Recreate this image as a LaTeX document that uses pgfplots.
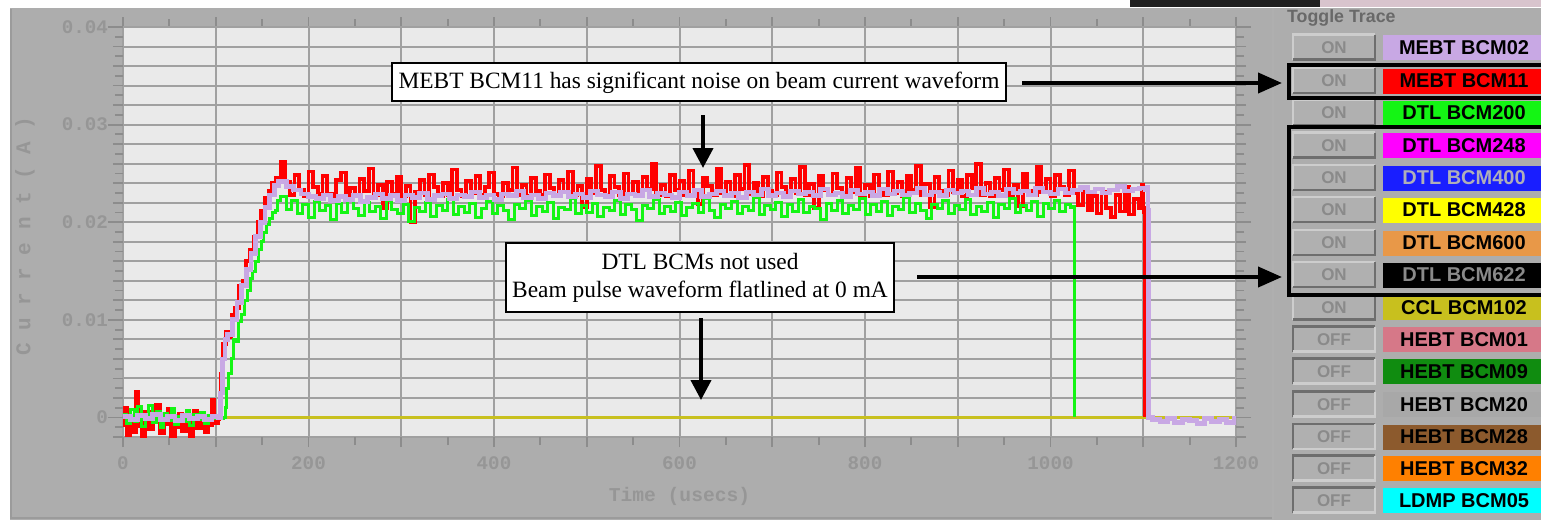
\documentclass[border=0pt]{standalone}
\usepackage{fontspec}
\setmainfont{Liberation Serif}
\newfontfamily\monof{Liberation Mono}
\newfontfamily\guif{Liberation Sans}
\usepackage{pgfplots}
\pgfplotsset{compat=1.18}
\usepackage{pgfplotstable}
\usetikzlibrary{arrows.meta}

\definecolor{panelbg}{RGB}{173,173,173}
\definecolor{panelbd}{RGB}{155,155,155}
\definecolor{plotbg}{RGB}{234,234,234}
\definecolor{gridc}{RGB}{160,160,160}
\definecolor{tickc}{RGB}{140,140,140}
\definecolor{ticktxt}{RGB}{150,150,150}
\definecolor{stripR}{RGB}{216,196,205}
\definecolor{cLav}{RGB}{200,168,228}
\definecolor{cRed}{RGB}{255,0,0}
\definecolor{cGreen}{RGB}{20,245,20}
\definecolor{cMag}{RGB}{255,0,255}
\definecolor{cBlue}{RGB}{25,30,255}
\definecolor{cYel}{RGB}{255,255,0}
\definecolor{cOrg}{RGB}{232,152,72}
\definecolor{cOlive}{RGB}{200,192,30}
\definecolor{cPink}{RGB}{214,120,136}
\definecolor{cDkGreen}{RGB}{16,140,16}
\definecolor{cGray}{RGB}{168,168,168}
\definecolor{cBrown}{RGB}{140,90,45}
\definecolor{cOrange}{RGB}{255,128,0}
\definecolor{cCyan}{RGB}{0,255,255}
\definecolor{btnfill}{RGB}{176,176,176}
\definecolor{btnlight}{RGB}{205,205,205}
\definecolor{btndark}{RGB}{110,110,110}
\definecolor{btntext}{RGB}{138,138,138}
\definecolor{bcm400txt}{RGB}{175,175,185}
\definecolor{toggletxt}{RGB}{105,105,105}

% MEBT BCM11 (red)
\pgfplotstableread[row sep=\\]{
x y\\
0 -0.0008\\ 2 0.0010\\ 4 -0.0018\\ 8 -0.0005\\ 12 -0.0015\\ 14 0.0026\\ 16 -0.0009\\ 20 -0.0020\\ 24 0.0006\\ 28 -0.0012\\
32 -0.0003\\ 36 0.0013\\ 40 -0.0016\\ 44 -0.0007\\ 48 0.0009\\ 52 -0.0019\\ 56 -0.0010\\ 60 0.0004\\ 64 -0.0014\\ 68 -0.0006\\
72 -0.0020\\ 76 0.0007\\ 80 -0.0011\\ 84 -0.0004\\ 88 -0.0015\\ 92 -0.0008\\ 96 0.0018\\ 98 -0.0003\\ 100 -0.0006\\ 102 -0.0002\\
104 0.0010\\ 106 0.0045\\ 108 0.0075\\ 111 0.0088\\ 114 0.0082\\ 117 0.0105\\ 121 0.0112\\ 125 0.0135\\ 129 0.0140\\ 133 0.0160\\
137 0.0172\\ 141 0.0185\\ 145 0.0200\\ 149 0.0212\\ 153 0.0225\\ 157 0.0232\\ 161 0.0240\\ 165 0.0245\\ 170 0.0262\\
175 0.0241\\ 180 0.0228\\ 185 0.0248\\ 190 0.0233\\ 195 0.0227\\ 200 0.0252\\ 205 0.0236\\ 210 0.0229\\ 215 0.0247\\ 220 0.0229\\
225 0.0227\\ 230 0.0243\\ 235 0.0251\\ 240 0.0228\\ 245 0.0235\\ 250 0.0227\\ 255 0.0244\\ 260 0.0232\\ 265 0.0255\\ 270 0.0228\\
275 0.0238\\ 280 0.0214\\ 285 0.0241\\ 290 0.0229\\ 295 0.0246\\ 300 0.0227\\ 305 0.0237\\ 310 0.0200\\ 315 0.0231\\ 320 0.0243\\
325 0.0228\\ 330 0.0249\\ 335 0.0236\\ 340 0.0227\\ 345 0.0240\\ 350 0.0228\\ 355 0.0254\\ 360 0.0233\\ 365 0.0227\\ 370 0.0242\\
375 0.0230\\ 380 0.0247\\ 385 0.0228\\ 390 0.0236\\ 395 0.0251\\ 400 0.0229\\ 405 0.0227\\ 410 0.0240\\ 415 0.0233\\ 420 0.0256\\
425 0.0228\\ 430 0.0238\\ 435 0.0227\\ 440 0.0245\\ 445 0.0232\\ 450 0.0228\\ 455 0.0249\\ 460 0.0235\\ 465 0.0227\\ 470 0.0243\\
475 0.0231\\ 480 0.0252\\ 485 0.0228\\ 490 0.0237\\ 495 0.0216\\ 500 0.0244\\ 505 0.0230\\ 510 0.0258\\ 515 0.0233\\ 520 0.0227\\
525 0.0247\\ 530 0.0236\\ 535 0.0228\\ 540 0.0250\\ 545 0.0229\\ 550 0.0241\\ 555 0.0227\\ 560 0.0246\\ 565 0.0234\\ 570 0.0260\\
575 0.0228\\ 580 0.0238\\ 585 0.0227\\ 590 0.0248\\ 595 0.0233\\ 600 0.0242\\ 605 0.0228\\ 610 0.0253\\ 615 0.0231\\ 620 0.0219\\
625 0.0245\\ 630 0.0237\\ 635 0.0228\\ 640 0.0255\\ 645 0.0230\\ 650 0.0241\\ 655 0.0227\\ 660 0.0248\\ 665 0.0234\\ 670 0.0259\\
675 0.0229\\ 680 0.0240\\ 685 0.0227\\ 690 0.0246\\ 695 0.0232\\ 700 0.0228\\ 705 0.0251\\ 710 0.0236\\ 715 0.0227\\ 720 0.0244\\
725 0.0230\\ 730 0.0257\\ 735 0.0228\\ 740 0.0239\\ 745 0.0215\\ 750 0.0247\\ 755 0.0233\\ 760 0.0228\\ 765 0.0250\\ 770 0.0235\\
775 0.0227\\ 780 0.0245\\ 785 0.0231\\ 790 0.0256\\ 795 0.0228\\ 800 0.0238\\ 805 0.0227\\ 810 0.0249\\ 815 0.0234\\ 820 0.0228\\
825 0.0252\\ 830 0.0230\\ 835 0.0241\\ 840 0.0227\\ 845 0.0247\\ 850 0.0233\\ 855 0.0258\\ 860 0.0228\\ 865 0.0239\\ 870 0.0216\\
875 0.0246\\ 880 0.0232\\ 885 0.0228\\ 890 0.0253\\ 895 0.0231\\ 900 0.0243\\ 905 0.0227\\ 910 0.0248\\ 915 0.0235\\ 920 0.0260\\
925 0.0228\\ 930 0.0240\\ 935 0.0227\\ 940 0.0245\\ 945 0.0233\\ 950 0.0254\\ 955 0.0228\\ 960 0.0238\\ 965 0.0217\\ 970 0.0250\\
975 0.0232\\ 980 0.0228\\ 985 0.0257\\ 990 0.0231\\ 995 0.0244\\ 1000 0.0227\\ 1005 0.0248\\ 1010 0.0236\\ 1015 0.0228\\ 1020 0.0253\\
1025 0.0230\\ 1030 0.0218\\ 1035 0.0235\\ 1040 0.0212\\ 1045 0.0227\\ 1050 0.0209\\ 1055 0.0231\\ 1060 0.0215\\ 1065 0.0205\\ 1070 0.0228\\
1075 0.0211\\ 1080 0.0236\\ 1085 0.0208\\ 1090 0.0224\\ 1095 0.0214\\ 1098 0.0238\\ 1100 0.0215\\ 1101 0.0210\\ 1101.5 0.0000\\
}\redtab

% DTL BCM200 (green)
\pgfplotstableread[row sep=\\]{
x y\\
0 0.0003\\ 4 -0.0006\\ 8 0.0008\\ 12 -0.0004\\ 16 0.0011\\ 20 -0.0009\\ 24 0.0002\\ 28 0.0012\\ 32 -0.0005\\ 36 0.0006\\
40 -0.0010\\ 44 0.0004\\ 48 -0.0003\\ 52 0.0009\\ 56 -0.0007\\ 60 0.0001\\ 64 -0.0004\\ 68 0.0007\\ 72 -0.0008\\ 76 0.0003\\
80 -0.0002\\ 84 0.0005\\ 88 -0.0006\\ 92 0.0002\\ 96 -0.0001\\ 100 0.0000\\ 104 -0.0001\\ 108 0.0000\\
110 0.0010\\ 112 0.0030\\ 114 0.0045\\ 117 0.0060\\ 119 0.0080\\ 122 0.0078\\ 125 0.0098\\ 128 0.0105\\ 131 0.0120\\ 134 0.0130\\
137 0.0142\\ 140 0.0150\\ 143 0.0160\\ 146 0.0172\\ 149 0.0180\\ 152 0.0190\\ 155 0.0198\\ 158 0.0204\\ 161 0.0210\\ 164 0.0212\\
167 0.0222\\ 170 0.0226\\
176 0.0213\\ 182 0.0222\\ 188 0.0209\\ 194 0.0218\\ 200 0.0205\\ 206 0.0221\\ 212 0.0212\\ 218 0.0217\\ 224 0.0203\\ 230 0.0219\\
236 0.0210\\ 242 0.0223\\ 248 0.0214\\ 254 0.0207\\ 260 0.0220\\ 266 0.0211\\ 272 0.0216\\ 278 0.0204\\ 284 0.0222\\ 290 0.0213\\
296 0.0209\\ 302 0.0218\\ 308 0.0201\\ 314 0.0215\\ 320 0.0211\\ 326 0.0220\\ 332 0.0206\\ 338 0.0217\\ 344 0.0212\\ 350 0.0223\\
356 0.0208\\ 362 0.0216\\ 368 0.0210\\ 374 0.0219\\ 380 0.0205\\ 386 0.0214\\ 392 0.0221\\ 398 0.0209\\ 404 0.0217\\ 410 0.0212\\
416 0.0203\\ 422 0.0218\\ 428 0.0214\\ 434 0.0222\\ 440 0.0207\\ 446 0.0216\\ 452 0.0211\\ 458 0.0220\\ 464 0.0204\\ 470 0.0215\\
476 0.0213\\ 482 0.0224\\ 488 0.0209\\ 494 0.0217\\ 500 0.0210\\ 506 0.0219\\ 512 0.0206\\ 518 0.0215\\ 524 0.0212\\ 530 0.0222\\
536 0.0208\\ 542 0.0218\\ 548 0.0213\\ 554 0.0202\\ 560 0.0217\\ 566 0.0214\\ 572 0.0223\\ 578 0.0209\\ 584 0.0216\\ 590 0.0211\\
596 0.0220\\ 602 0.0207\\ 608 0.0215\\ 614 0.0219\\ 620 0.0210\\ 626 0.0224\\ 632 0.0212\\ 638 0.0205\\ 644 0.0218\\ 650 0.0214\\
656 0.0221\\ 662 0.0209\\ 668 0.0216\\ 674 0.0212\\ 680 0.0225\\ 686 0.0208\\ 692 0.0217\\ 698 0.0213\\ 704 0.0220\\ 710 0.0206\\
716 0.0218\\ 722 0.0211\\ 728 0.0223\\ 734 0.0210\\ 740 0.0216\\ 746 0.0214\\ 752 0.0203\\ 758 0.0219\\ 764 0.0212\\ 770 0.0222\\
776 0.0209\\ 782 0.0217\\ 788 0.0213\\ 794 0.0224\\ 800 0.0208\\ 806 0.0218\\ 812 0.0211\\ 818 0.0221\\ 824 0.0207\\ 830 0.0216\\
836 0.0213\\ 842 0.0225\\ 848 0.0210\\ 854 0.0219\\ 860 0.0212\\ 866 0.0204\\ 872 0.0218\\ 878 0.0214\\ 884 0.0222\\ 890 0.0209\\
896 0.0217\\ 902 0.0213\\ 908 0.0223\\ 914 0.0208\\ 920 0.0216\\ 926 0.0211\\ 932 0.0220\\ 938 0.0205\\ 944 0.0218\\ 950 0.0214\\
956 0.0224\\ 962 0.0210\\ 968 0.0217\\ 974 0.0212\\ 980 0.0221\\ 986 0.0206\\ 992 0.0219\\ 998 0.0214\\ 1004 0.0222\\ 1010 0.0211\\
1016 0.0218\\ 1022 0.0215\\ 1025 0.0216\\ 1025.5 0.0000\\
}\greentab

% MEBT BCM02 (lavender)
\pgfplotstableread[row sep=\\]{
x y\\
0 0.0001\\ 8 -0.0002\\ 16 0.0002\\ 24 -0.0001\\ 32 0.0003\\ 40 -0.0002\\ 48 0.0001\\ 56 -0.0003\\ 64 0.0002\\ 72 -0.0001\\
80 0.0001\\ 88 -0.0002\\ 96 0.0001\\ 103 0.0000\\
105 0.0025\\ 107 0.0060\\ 110 0.0080\\ 113 0.0085\\ 118 0.0100\\ 123 0.0118\\ 128 0.0135\\ 133 0.0152\\ 138 0.0168\\ 143 0.0185\\
148 0.0200\\ 153 0.0215\\ 158 0.0228\\ 163 0.0238\\ 168 0.0242\\
176 0.0237\\ 184 0.0233\\ 192 0.0229\\ 200 0.0226\\ 208 0.0224\\ 216 0.0228\\ 224 0.0222\\ 232 0.0226\\ 240 0.0223\\ 248 0.0227\\
256 0.0221\\ 264 0.0225\\ 272 0.0229\\ 280 0.0224\\ 288 0.0227\\ 296 0.0222\\ 304 0.0228\\ 312 0.0225\\ 320 0.0230\\ 328 0.0223\\
336 0.0227\\ 344 0.0229\\ 352 0.0224\\ 360 0.0228\\ 368 0.0226\\ 376 0.0231\\ 384 0.0225\\ 392 0.0228\\ 400 0.0223\\ 408 0.0229\\
416 0.0227\\ 424 0.0232\\ 432 0.0225\\ 440 0.0228\\ 448 0.0224\\ 456 0.0230\\ 464 0.0227\\ 472 0.0231\\ 480 0.0226\\ 488 0.0229\\
496 0.0225\\ 504 0.0232\\ 512 0.0228\\ 520 0.0226\\ 528 0.0231\\ 536 0.0224\\ 544 0.0229\\ 552 0.0227\\ 560 0.0233\\ 568 0.0226\\
576 0.0230\\ 584 0.0228\\ 592 0.0225\\ 600 0.0231\\ 608 0.0227\\ 616 0.0233\\ 624 0.0226\\ 632 0.0229\\ 640 0.0232\\ 648 0.0227\\
656 0.0230\\ 664 0.0225\\ 672 0.0231\\ 680 0.0228\\ 688 0.0234\\ 696 0.0227\\ 704 0.0230\\ 712 0.0226\\ 720 0.0232\\ 728 0.0229\\
736 0.0231\\ 744 0.0227\\ 752 0.0234\\ 760 0.0228\\ 768 0.0230\\ 776 0.0226\\ 784 0.0233\\ 792 0.0229\\ 800 0.0231\\ 808 0.0227\\
816 0.0234\\ 824 0.0229\\ 832 0.0232\\ 840 0.0228\\ 848 0.0230\\ 856 0.0235\\ 864 0.0228\\ 872 0.0231\\ 880 0.0227\\ 888 0.0233\\
896 0.0230\\ 904 0.0232\\ 912 0.0228\\ 920 0.0235\\ 928 0.0229\\ 936 0.0231\\ 944 0.0227\\ 952 0.0234\\ 960 0.0230\\ 968 0.0232\\
976 0.0228\\ 984 0.0235\\ 992 0.0231\\ 1000 0.0229\\ 1008 0.0234\\ 1016 0.0230\\ 1024 0.0233\\ 1032 0.0236\\ 1040 0.0231\\ 1048 0.0234\\
1056 0.0230\\ 1064 0.0233\\ 1072 0.0237\\ 1080 0.0232\\ 1088 0.0234\\ 1096 0.0235\\ 1102 0.0233\\ 1104 0.0236\\ 1105 0.0212\\ 1106 0.0000\\
1110 -0.0002\\ 1118 -0.0004\\ 1126 -0.0001\\ 1134 -0.0005\\ 1142 -0.0002\\ 1150 -0.0003\\ 1158 -0.0006\\ 1166 -0.0001\\ 1174 -0.0004\\
1182 -0.0002\\ 1190 -0.0005\\ 1198 -0.0001\\ 1200 -0.0003\\
}\lavtab

% flat traces at 0 A (DTL BCMs, CCL BCM102)
\pgfplotstableread[row sep=\\]{
x y\\
0 0\\ 1200 0\\
}\flattab

\newcommand{\onbtn}[1]{%
  \fill[btnfill] (1293,#1-13) rectangle (1375,#1+12);
  \draw[btnlight,line width=1.2pt] (1293,#1+12) -- (1293,#1-13) -- (1375,#1-13);
  \draw[btndark,line width=1.2pt] (1375,#1-13) -- (1375,#1+12) -- (1293,#1+12);
  \node[font=\guif\bfseries\fontsize{8.5}{10}\selectfont, text=btntext] at (1334,#1) {ON};}
\newcommand{\offbtn}[1]{%
  \fill[btnfill] (1293,#1-13) rectangle (1375,#1+12);
  \draw[btndark,line width=1.2pt] (1293,#1+12) -- (1293,#1-13) -- (1375,#1-13);
  \draw[btnlight,line width=1.2pt] (1375,#1-13) -- (1375,#1+12) -- (1293,#1+12);
  \node[font=\guif\bfseries\fontsize{8.5}{10}\selectfont, text=btntext] at (1334,#1) {OFF};}
\newcommand{\lab}[4]{%
  \fill[#2] (1383,#1-12.5) rectangle (1541,#1+12.5);
  \node[font=\guif\bfseries\fontsize{10}{12}\selectfont, text=#3] at (1464,#1) {#4};}

\begin{document}
\begin{tikzpicture}
\begin{scope}[x=0.5pt,y=-0.5pt]
  \fill[white] (0,0) rectangle (1541,520);
  % top strip (fragment of another window)
  \fill[black!88] (1130,0) rectangle (1320,7);
  \fill[stripR] (1320,0) rectangle (1541,7);
  % chart panel
  \fill[panelbg] (10,8) rectangle (1272,520);
  \draw[panelbd,line width=1pt] (10.5,8.5) -- (10.5,518) -- (1272,518);
  % right panel
  \fill[panelbg] (1272,8) rectangle (1541,520);
  \draw[panelbd!80!white,line width=1pt] (1273,8) -- (1273,520);
  \node[font=\guif\bfseries\fontsize{8.9}{11}\selectfont, text=toggletxt, anchor=west] at (1280,17.5) {Toggle Trace};
  \onbtn{47.5}  \lab{47.5}{cLav}{black}{MEBT BCM02}
  \onbtn{81}    \lab{81}{cRed}{black}{MEBT BCM11}
  \onbtn{113}   \lab{113}{cGreen}{black}{DTL BCM200}
  \onbtn{145.5} \lab{145.5}{cMag}{black}{DTL BCM248}
  \onbtn{178}   \lab{178}{cBlue}{bcm400txt}{DTL BCM400}
  \onbtn{210}   \lab{210}{cYel}{black}{DTL BCM428}
  \onbtn{243}   \lab{243}{cOrg}{black}{DTL BCM600}
  \onbtn{275}   \lab{275}{black}{btntext}{DTL BCM622}
  \onbtn{307.5} \lab{307.5}{cOlive}{black}{CCL BCM102}
  \offbtn{339.5} \lab{339.5}{cPink}{black}{HEBT BCM01}
  \offbtn{371.5} \lab{371.5}{cDkGreen}{black}{HEBT BCM09}
  \offbtn{404.5} \lab{404.5}{cGray}{black}{HEBT BCM20}
  \offbtn{437}   \lab{437}{cBrown}{black}{HEBT BCM28}
  \offbtn{468.5} \lab{468.5}{cOrange}{black}{HEBT BCM32}
  \offbtn{500.5} \lab{500.5}{cCyan}{black}{LDMP BCM05}
\end{scope}

\begin{axis}[
  at={(61.5pt,-218.5pt)}, anchor=south west,
  width=556.5pt, height=205pt, scale only axis,
  xmin=0, xmax=1200, ymin=-0.002, ymax=0.04,
  axis background/.style={fill=plotbg},
  axis line style={draw=none},
  xtick={0,100,200,300,400,500,600,700,800,900,1000,1100,1200},
  xticklabels={0,,200,,400,,600,,800,,1000,,1200},
  minor xtick={50,150,250,350,450,550,650,750,850,950,1050,1150},
  ytick={-0.002,0,0.002,0.004,0.006,0.008,0.01,0.012,0.014,0.016,0.018,0.02,0.022,0.024,0.026,0.028,0.03,0.032,0.034,0.036,0.038,0.04},
  yticklabels={},
  minor ytick={-0.001,0.001,0.003,0.005,0.007,0.009,0.011,0.013,0.015,0.017,0.019,0.021,0.023,0.025,0.027,0.029,0.031,0.033,0.035,0.037,0.039},
  extra y ticks={0,0.01,0.02,0.03,0.04},
  extra y tick labels={0,0.01,0.02,0.03,0.04},
  extra y tick style={major tick length=7.5pt},
  scaled y ticks=false,
  grid=major,
  major grid style={draw=gridc, line width=1pt},
  tick align=outside,
  major tick length=5pt, minor tick length=4pt,
  every tick/.style={draw=tickc, line width=0.9pt},
  tick label style={font=\monof\bfseries\fontsize{9.6}{11}\selectfont, text=ticktxt},
  yticklabel style={xshift=3.5pt},
  xticklabel style={yshift=-1.5pt},
  /pgf/number format/assume math mode=true,
  xlabel={Time (usecs)},
  ylabel={C u r r e n t ( A )},
  label style={font=\monof\bfseries\fontsize{10.5}{12}\selectfont, text=ticktxt},
  xlabel style={at={(axis description cs:0.5,-0.146)}, anchor=center, font=\monof\bfseries\fontsize{9.8}{12}\selectfont},
  ylabel style={at={(axis description cs:-0.088,0.49)}, anchor=center},
  clip=true,
]
\addplot[cMag, line width=1pt] table {\flattab};
\addplot[cBlue, line width=1pt] table {\flattab};
\addplot[cYel, line width=1pt] table {\flattab};
\addplot[cOrg, line width=1pt] table {\flattab};
\addplot[black, line width=1pt] table {\flattab};
\addplot[cOlive, line width=1.5pt] table {\flattab};
\addplot[cRed, line width=1.9pt, const plot] table {\redtab};
\addplot[cGreen, line width=1.5pt, const plot] table {\greentab};
\addplot[cLav, line width=2.4pt, const plot] table {\lavtab};
\end{axis}

\begin{scope}[x=0.5pt,y=-0.5pt]
  % annotation 1
  \draw[fill=white, line width=0.9pt] (392,63) rectangle (1006,101);
  \node[font=\fontsize{11.7}{14}\selectfont] at (699,82.5) {MEBT BCM11 has significant noise on beam current waveform};
  \draw[line width=2pt, -{Triangle[length=12pt,width=10pt]}] (1022,83) -- (1282,83);
  \draw[line width=2pt, -{Triangle[length=10pt,width=10pt]}] (703,115) -- (703,168);
  % annotation 2
  \draw[fill=white, line width=0.9pt] (506,243) rectangle (894,312);
  \node[font=\fontsize{11.7}{14}\selectfont, align=center] at (700,278) {DTL BCMs not used\\Beam pulse waveform flatlined at 0 mA};
  \draw[line width=2pt, -{Triangle[length=12pt,width=10pt]}] (917,277) -- (1282,277);
  \draw[line width=2pt, -{Triangle[length=10pt,width=10pt]}] (701,318) -- (701,400);
  % highlight boxes on the toggle panel
  \draw[line width=2pt] (1541,65) -- (1289,65) -- (1289,98) -- (1541,98);
  \draw[line width=2pt] (1541,127) -- (1289,127) -- (1289,295) -- (1541,295);
\end{scope}
\pgfresetboundingbox
\path[use as bounding box] (0pt,0pt) rectangle (770.5pt,-260pt);
\end{tikzpicture}
\end{document}
